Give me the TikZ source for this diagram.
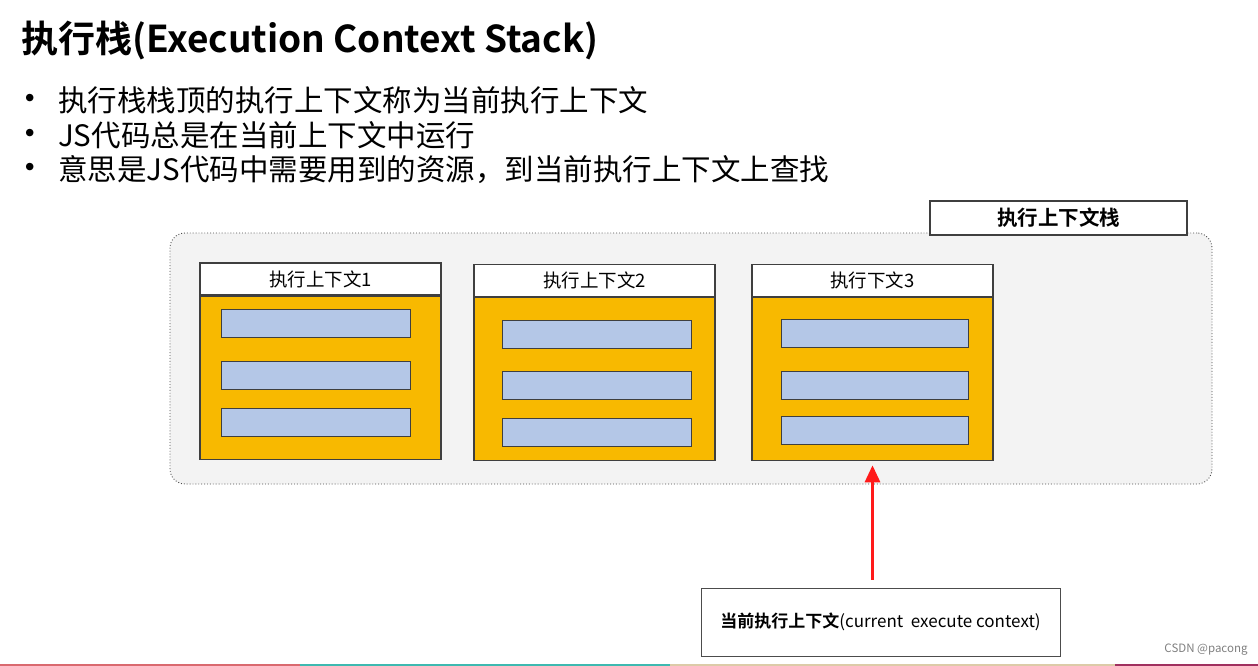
\documentclass[tikz,border=0pt]{standalone}
\usepackage{fontspec}
\setmainfont{Noto Sans CJK SC}[BoldFont={Noto Sans CJK SC Bold}]
\usetikzlibrary{arrows.meta,positioning,calc}
\definecolor{ctxorange}{HTML}{F8B900}
\definecolor{ctxblue}{HTML}{B4C7E7}
\definecolor{ctxline}{HTML}{3F3F3F}
\definecolor{stackgray}{HTML}{F3F3F3}
\definecolor{arrred}{HTML}{FF1A1A}
\definecolor{stripred}{HTML}{D9696F}
\definecolor{stripteal}{HTML}{3DB9B0}
\definecolor{stripbeige}{HTML}{DCCBA8}
\definecolor{stripplum}{HTML}{A0305F}
\newcommand{\dotmark}{\makebox[46pt][l]{\raisebox{0pt}[0pt][0pt]{\scalebox{1.2}{•}}}}

\begin{document}
\begin{tikzpicture}[x=1pt, y=-1pt,
  head/.style={draw=ctxline, fill=white, minimum width=241pt, minimum height=32pt, inner sep=0pt, line width=1.2pt, font=\fontsize{18.5}{20}\selectfont},
  body/.style={draw=ctxline, fill=ctxorange, minimum width=241pt, minimum height=163pt, inner sep=0pt, line width=1.2pt},
  bar/.style={draw=ctxline, fill=ctxblue, minimum width=189pt, minimum height=28pt, inner sep=0pt, line width=1pt},
  tag/.style={draw=ctxline, fill=white, inner sep=0pt, line width=1.2pt},
  bullet/.style={anchor=west, inner sep=0pt, font=\fontsize{29.5}{32}\selectfont},
  arr/.style={-{Triangle[length=17pt, width=15pt]}, line width=3pt, draw=arrred},
]
  \useasboundingbox[fill=white] (0,0) rectangle (1258,666);

  % heading and notes
  \node[anchor=west, inner sep=0pt, font=\bfseries\fontsize{37}{42}\selectfont] (title) at (21,40) {执行栈(Execution Context Stack)};
  \node[bullet] (pt1) at (12,100) {\dotmark 执行栈栈顶的执行上下文称为当前执行上下文};
  \node[bullet] (pt2) at (12,135) {\dotmark JS代码总是在当前上下文中运行};
  \node[bullet] (pt3) at (12,170) {\dotmark 意思是JS代码中需要用到的资源，到当前执行上下文上查找};

  % the stack
  \node[draw=gray!60!black, dotted, line width=0.9pt, fill=stackgray, rounded corners=15pt, minimum width=1042pt, minimum height=251pt] (stack) at (691,358.5) {};
  \node[tag, minimum width=257pt, minimum height=34pt, font=\bfseries\fontsize{20.5}{22}\selectfont] (stacklbl) at (1058.5,218) {执行上下文栈};

  \node[head] (h1) at (320.5,279) {执行上下文1};
  \node[body, below=0pt of h1] (b1) {};
  \node[head] (h2) at (594.5,280.5) {执行上下文2};
  \node[body, below=0pt of h2] (b2) {};
  \node[head] (h3) at (872.5,280.5) {执行下文3};
  \node[body, below=0pt of h3] (b3) {};

  \node[bar] (v11) at (315.5,323) {};
  \node[bar] (v12) at (315.5,375) {};
  \node[bar] (v13) at (315.5,422) {};
  \node[bar] (v21) at (596.5,334) {};
  \node[bar] (v22) at (596.5,385) {};
  \node[bar] (v23) at (596.5,432) {};
  \node[bar, minimum width=187pt] (v31) at (874.5,333) {};
  \node[bar, minimum width=187pt] (v32) at (874.5,385) {};
  \node[bar, minimum width=187pt] (v33) at (874.5,430.5) {};

  % current context
  \node[draw=gray!60!black, line width=1pt, fill=white, minimum width=359pt, minimum height=68pt, font=\fontsize{17}{19}\selectfont] (cur) at (880.5,622) {{\bfseries 当前执行上下文}(current\ \ execute context)};
  \draw[arr, shorten <=8pt, shorten >=4pt] (cur.north -| b3.south) -- (b3.south);

  \node[text=gray, font=\fontsize{11.5}{13}\selectfont] (mark) at (1206,650) {CSDN @pacong};

  % bottom strip
  \fill[stripred] (0,663.5) rectangle (300,666);
  \fill[stripteal] (300,663.5) rectangle (670,666);
  \fill[stripbeige] (670,663.5) rectangle (1115,666);
  \fill[stripplum] (1115,663.5) rectangle (1258,666);
\end{tikzpicture}
\end{document}
